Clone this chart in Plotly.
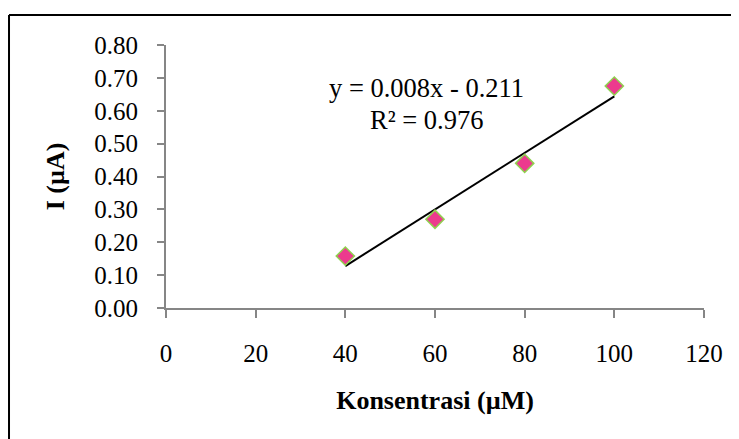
import numpy as np
import plotly.graph_objects as go

konsentrasi = [40, 60, 80, 100]
arus = [0.158, 0.270, 0.440, 0.675]
x_ticks = [0, 20, 40, 60, 80, 100, 120]
y_ticks = [0.0, 0.1, 0.2, 0.3, 0.4, 0.5, 0.6, 0.7, 0.8]
equation_text = "y = 0.008x - 0.211"
r2_text = "R² = 0.976"

slope, intercept = np.polyfit(konsentrasi, arus, 1)
trend_x = [min(konsentrasi), max(konsentrasi)]
trend_y = [slope * v + intercept for v in trend_x]

FONT = "Liberation Serif"

fig = go.Figure()
fig.add_trace(go.Scatter(x=trend_x, y=trend_y, mode="lines",
                         line=dict(color="black", width=2), showlegend=False))
fig.add_trace(go.Scatter(x=konsentrasi, y=arus, mode="markers",
                         marker=dict(symbol="diamond", size=14, color="#ec3a8e",
                                     line=dict(color="#8fd14f", width=1.5)),
                         showlegend=False))

# page body adds an 8px offset; margins compensate so the plot lands where the reference has it
fig.update_layout(
    width=739, height=439,
    margin=dict(l=158, r=43, t=37, b=139),
    paper_bgcolor="white", plot_bgcolor="white",
    font=dict(family=FONT, size=25, color="black"),
    xaxis=dict(range=[0, 120], tickvals=x_ticks, ticktext=[str(v) for v in x_ticks],
               showgrid=False, zeroline=False, showline=True, linecolor="#868686", linewidth=2,
               ticks="outside", ticklen=8, tickwidth=2, tickcolor="#868686",
               ticklabelstandoff=14,
               title=dict(text="<b>Konsentrasi (µM)</b>", font=dict(size=26), standoff=25)),
    yaxis=dict(range=[0, 0.8], tickvals=y_ticks, ticktext=[f"{v:.2f}" for v in y_ticks],
               showgrid=False, zeroline=False, showline=True, linecolor="#868686", linewidth=2,
               ticks="outside", ticklen=7, tickwidth=2, tickcolor="#868686",
               ticklabelstandoff=14,
               title=dict(text="<b>I (µA)</b>", font=dict(size=26), standoff=22)),
)

fig.add_annotation(x=58.0, y=0.669, text=equation_text, showarrow=False,
                   font=dict(size=26.5), xref="x", yref="y")
fig.add_annotation(x=58.0, y=0.571, text=r2_text, showarrow=False,
                   font=dict(size=26.5), xref="x", yref="y")

# outer frame lines (top and left)
fig.add_shape(type="line", xref="paper", yref="paper", x0=-0.2918, x1=1.12, y0=1.114, y1=1.114,
              line=dict(color="black", width=2))
fig.add_shape(type="line", xref="paper", yref="paper", x0=-0.2918, x1=-0.2918, y0=1.114, y1=-0.55,
              line=dict(color="black", width=2))

fig.write_html("out.html")
